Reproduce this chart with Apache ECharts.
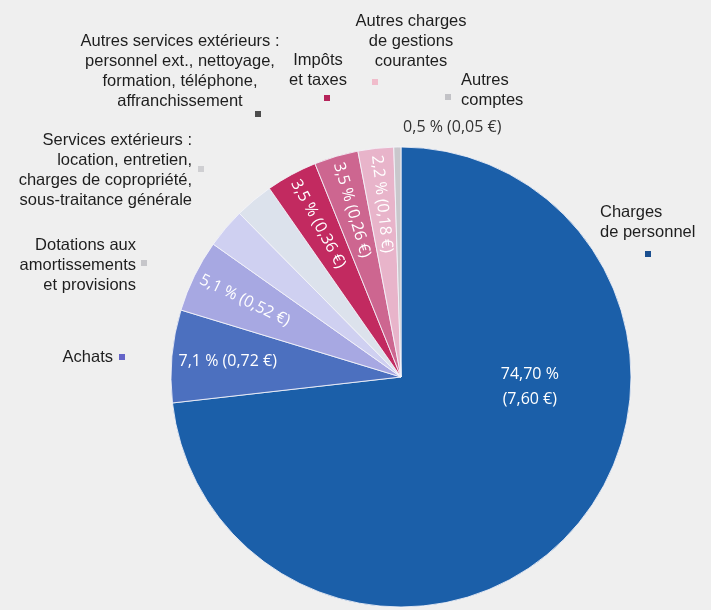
<!DOCTYPE html>
<html><head><meta charset="utf-8">
<script src="https://cdn.jsdelivr.net/npm/echarts@6/dist/echarts.min.js"></script>
<style>html,body{margin:0;padding:0;background:#efefef}#c{width:711px;height:610px}</style>
</head><body><div id="c"></div>
<script>
// ---- data ----
const categories = [
  'Charges de personnel',
  'Achats',
  'Dotations aux amortissements et provisions',
  'Services extérieurs',
  'Autres services extérieurs',
  'Impôts et taxes',
  'Autres charges de gestions courantes',
  'Autres charges (2)',
  'Autres comptes'
];
const shares = [73.2, 6.5, 5.1, 2.8, 2.7, 3.6, 3.1, 2.5, 0.5];
const sliceLabels = [
  '74,70 %\n(7,60 €)', '7,1 % (0,72 €)', '5,1 % (0,52 €)', '', '',
  '3,5 % (0,36 €)', '3,5 % (0,26 €)', '2,2 % (0,18 €)', '0,5 % (0,05 €)'
];
const sliceColors = ['#1b5fa9', '#4c70bf', '#a7a8e2', '#cfd0f1', '#dce2ec',
  '#c22a60', '#cd6690', '#e8b4ca', '#c9c7cc'];
const outerTexts = [
  'Autres services extérieurs :\npersonnel ext., nettoyage,\nformation, téléphone,\naffranchissement',
  'Impôts\net taxes',
  'Autres charges\nde gestions\ncourantes',
  'Autres\ncomptes',
  'Services extérieurs :\nlocation, entretien,\ncharges de copropriété,\nsous-traitance générale',
  'Dotations aux\namortissements\net provisions',
  'Achats',
  'Charges\nde personnel'
];
const markerColors = ['#4d4d4d', '#b5245a', '#f0bccb', '#c2c2c6', '#cfcfd2', '#c6c6ca', '#6464c8', '#1b4f8f'];

// ---- chart ----
const chart = echarts.init(document.getElementById('c'));
const CX = 401, CY = 377, R = 230;
const txtStyle = {fontFamily: 'Liberation Sans, Arial', fontSize: 16.5, lineHeight: 20, fill: '#1e1e1e'};
const textPos = [
  {x: 180, y: 71, align: 'center'},
  {x: 318, y: 70, align: 'center'},
  {x: 411, y: 41, align: 'center'},
  {x: 461, y: 90, align: 'left'},
  {x: 192, y: 170, align: 'right'},
  {x: 136, y: 265, align: 'right'},
  {x: 113, y: 357, align: 'right'},
  {x: 600, y: 222, align: 'left'}
];
const markerPos = [[258,114],[327,98],[375,82],[448,97],[201,169],[144,263],[122,357],[648,254]];
const graphic = [];
outerTexts.forEach((t, i) => {
  graphic.push({type: 'text', x: textPos[i].x, y: textPos[i].y, silent: true,
    style: Object.assign({text: t, align: textPos[i].align, verticalAlign: 'middle'}, txtStyle)});
  graphic.push({type: 'rect', x: markerPos[i][0] - 3, y: markerPos[i][1] - 3, silent: true,
    shape: {width: 6, height: 6}, style: {fill: markerColors[i]}});
});

const pieData = categories.map((n, i) => ({name: n, value: shares[i], itemStyle: {color: sliceColors[i]}}));
const labelOverrides = {
  0: {rotate: 0, offset: [-1, -106], lineHeight: 25, align: 'center'},
  1: {rotate: 0},
  8: {rotate: 0, offset: [54, -76], color: '#333'}
};
const ringData = categories.map((n, i) => {
  const d = {name: n, value: shares[i], itemStyle: {color: 'transparent', borderWidth: 0}};
  if (labelOverrides[i]) d.label = labelOverrides[i];
  return d;
});

chart.setOption({
  backgroundColor: '#efefef',
  animation: false,
  graphic: graphic,
  series: [
    {
      type: 'pie', center: [CX, CY], radius: R, startAngle: 90, clockwise: true,
      silent: true, label: {show: false}, labelLine: {show: false},
      itemStyle: {borderColor: 'rgba(245,245,250,0.85)', borderWidth: 1},
      data: pieData
    },
    {
      type: 'pie', center: [CX, CY], radius: [112, R], startAngle: 90, clockwise: true,
      silent: true, z: 5,
      label: {show: true, position: 'inside', rotate: 'radial', color: '#ffffff',
        fontFamily: 'Open Sans', fontSize: 16, fontWeight: 'normal',
        formatter: p => sliceLabels[p.dataIndex]},
      labelLine: {show: false},
      data: ringData
    }
  ]
});
</script>
</body></html>
